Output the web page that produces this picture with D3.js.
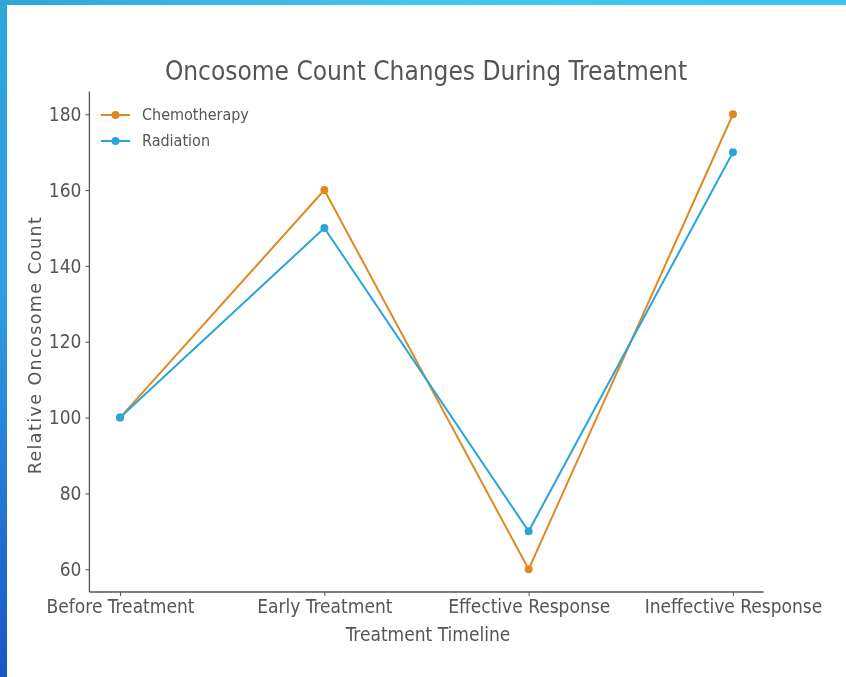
<!DOCTYPE html>
<html>
<head>
<meta charset="utf-8">
<script src="https://cdn.jsdelivr.net/npm/d3@7"></script>
<style>
  html, body { margin: 0; padding: 0; background: #fff; }
  svg { display: block; }
  text { font-family: "DejaVu Sans Condensed", "DejaVu Sans", sans-serif; fill: #555; }
</style>
</head>
<body>
<svg id="chart" width="846" height="677"></svg>
<script>
// Treatment stages and relative oncosome counts per therapy
const stages = ["Before Treatment", "Early Treatment", "Effective Response", "Ineffective Response"];
const chemotherapy = [100, 160, 60, 180];
const radiation = [100, 150, 70, 170];
const yTicks = [60, 80, 100, 120, 140, 160, 180];
const seriesNames = ["Chemotherapy", "Radiation"];
const seriesColors = ["#de8a24", "#2aa5d9"];

const svg = d3.select("#chart");
const W = 846, H = 677;

// Frame: gradient bands along the top and left edges
const defs = svg.append("defs");
const gTop = defs.append("linearGradient").attr("id", "topBand").attr("x1", 0).attr("x2", 1).attr("y1", 0).attr("y2", 0);
gTop.append("stop").attr("offset", 0).attr("stop-color", "#2ea6d8");
gTop.append("stop").attr("offset", 0.5).attr("stop-color", "#43c6f2");
gTop.append("stop").attr("offset", 1).attr("stop-color", "#3cc3f0");
const gLeft = defs.append("linearGradient").attr("id", "leftBand").attr("x1", 0).attr("x2", 0).attr("y1", 0).attr("y2", 1);
gLeft.append("stop").attr("offset", 0).attr("stop-color", "#2fa6d9");
gLeft.append("stop").attr("offset", 0.45).attr("stop-color", "#2f9be6");
gLeft.append("stop").attr("offset", 0.8).attr("stop-color", "#1f6fd0");
gLeft.append("stop").attr("offset", 1).attr("stop-color", "#1659c2");
const soft = defs.append("filter").attr("id", "soft").attr("x", "-5%").attr("y", "-5%").attr("width", "110%").attr("height", "110%");
soft.append("feGaussianBlur").attr("stdDeviation", 0.6);

svg.append("rect").attr("x", 0).attr("y", 0).attr("width", W).attr("height", 5).attr("fill", "url(#topBand)");
svg.append("rect").attr("x", 0).attr("y", 0).attr("width", 7).attr("height", H).attr("fill", "url(#leftBand)");

const plot = { left: 89.4, right: 763.6, top: 91.5, bottom: 592 };

const x = d3.scaleLinear().domain([-0.15, stages.length - 1 + 0.15]).range([plot.left, plot.right]);
const y = d3.scaleLinear().domain([54, 186]).range([plot.bottom, plot.top]);

const g = svg.append("g").attr("filter", "url(#soft)");

// Axes
const xAxis = d3.axisBottom(x).tickValues(d3.range(stages.length)).tickFormat(i => stages[i]).tickSize(4).tickPadding(4);
const yAxis = d3.axisLeft(y).tickValues(yTicks).tickSize(4).tickPadding(4);

const gx = g.append("g").attr("transform", `translate(0,${plot.bottom})`).call(xAxis);
const gy = g.append("g").attr("transform", `translate(${plot.left},0)`).call(yAxis);
[gx, gy].forEach(a => {
  a.select(".domain").attr("stroke", "#555").attr("stroke-width", 1.3);
  a.selectAll(".tick line").attr("stroke", "#555").attr("stroke-width", 1);
  a.selectAll(".tick text").attr("fill", "#555").style("font-size", "19px")
    .style("font-family", "'DejaVu Sans Condensed', 'DejaVu Sans', sans-serif");
});
gx.selectAll(".domain").attr("d", `M${plot.left},0H${plot.right}`);
gy.selectAll(".domain").attr("d", `M0,${plot.bottom}V${plot.top}`);

// Lines and markers
const line = d3.line().x((d, i) => x(i)).y(d => y(d));
[chemotherapy, radiation].forEach((vals, k) => {
  g.append("path").datum(vals).attr("d", line).attr("fill", "none")
    .attr("stroke", seriesColors[k]).attr("stroke-width", 2);
  g.selectAll(null).data(vals).enter().append("circle")
    .attr("cx", (d, i) => x(i)).attr("cy", d => y(d)).attr("r", 4)
    .attr("fill", seriesColors[k]);
});

// Title and axis labels
g.append("text").attr("x", 426).attr("y", 80)
  .attr("text-anchor", "middle").style("font-size", "26px")
  .text("Oncosome Count Changes During Treatment");
g.append("text").attr("x", 428).attr("y", 641)
  .attr("text-anchor", "middle").style("font-size", "19px")
  .text("Treatment Timeline");
g.append("text").attr("transform", `translate(41,345) rotate(-90)`)
  .attr("text-anchor", "middle").style("font-size", "17.5px")
  .style("letter-spacing", "1.4px")
  .style("font-family", "'DejaVu Sans', sans-serif")
  .text("Relative Oncosome Count");

// Legend
const legend = g.append("g").attr("transform", "translate(101,115)");
seriesNames.forEach((name, k) => {
  const row = legend.append("g").attr("transform", `translate(0,${k * 26})`);
  row.append("line").attr("x1", 0).attr("x2", 29).attr("stroke", seriesColors[k]).attr("stroke-width", 2);
  row.append("circle").attr("cx", 14.5).attr("r", 4).attr("fill", seriesColors[k]);
  row.append("text").attr("x", 41).attr("y", 5).style("font-size", "16px").text(name);
});
</script>
</body>
</html>
